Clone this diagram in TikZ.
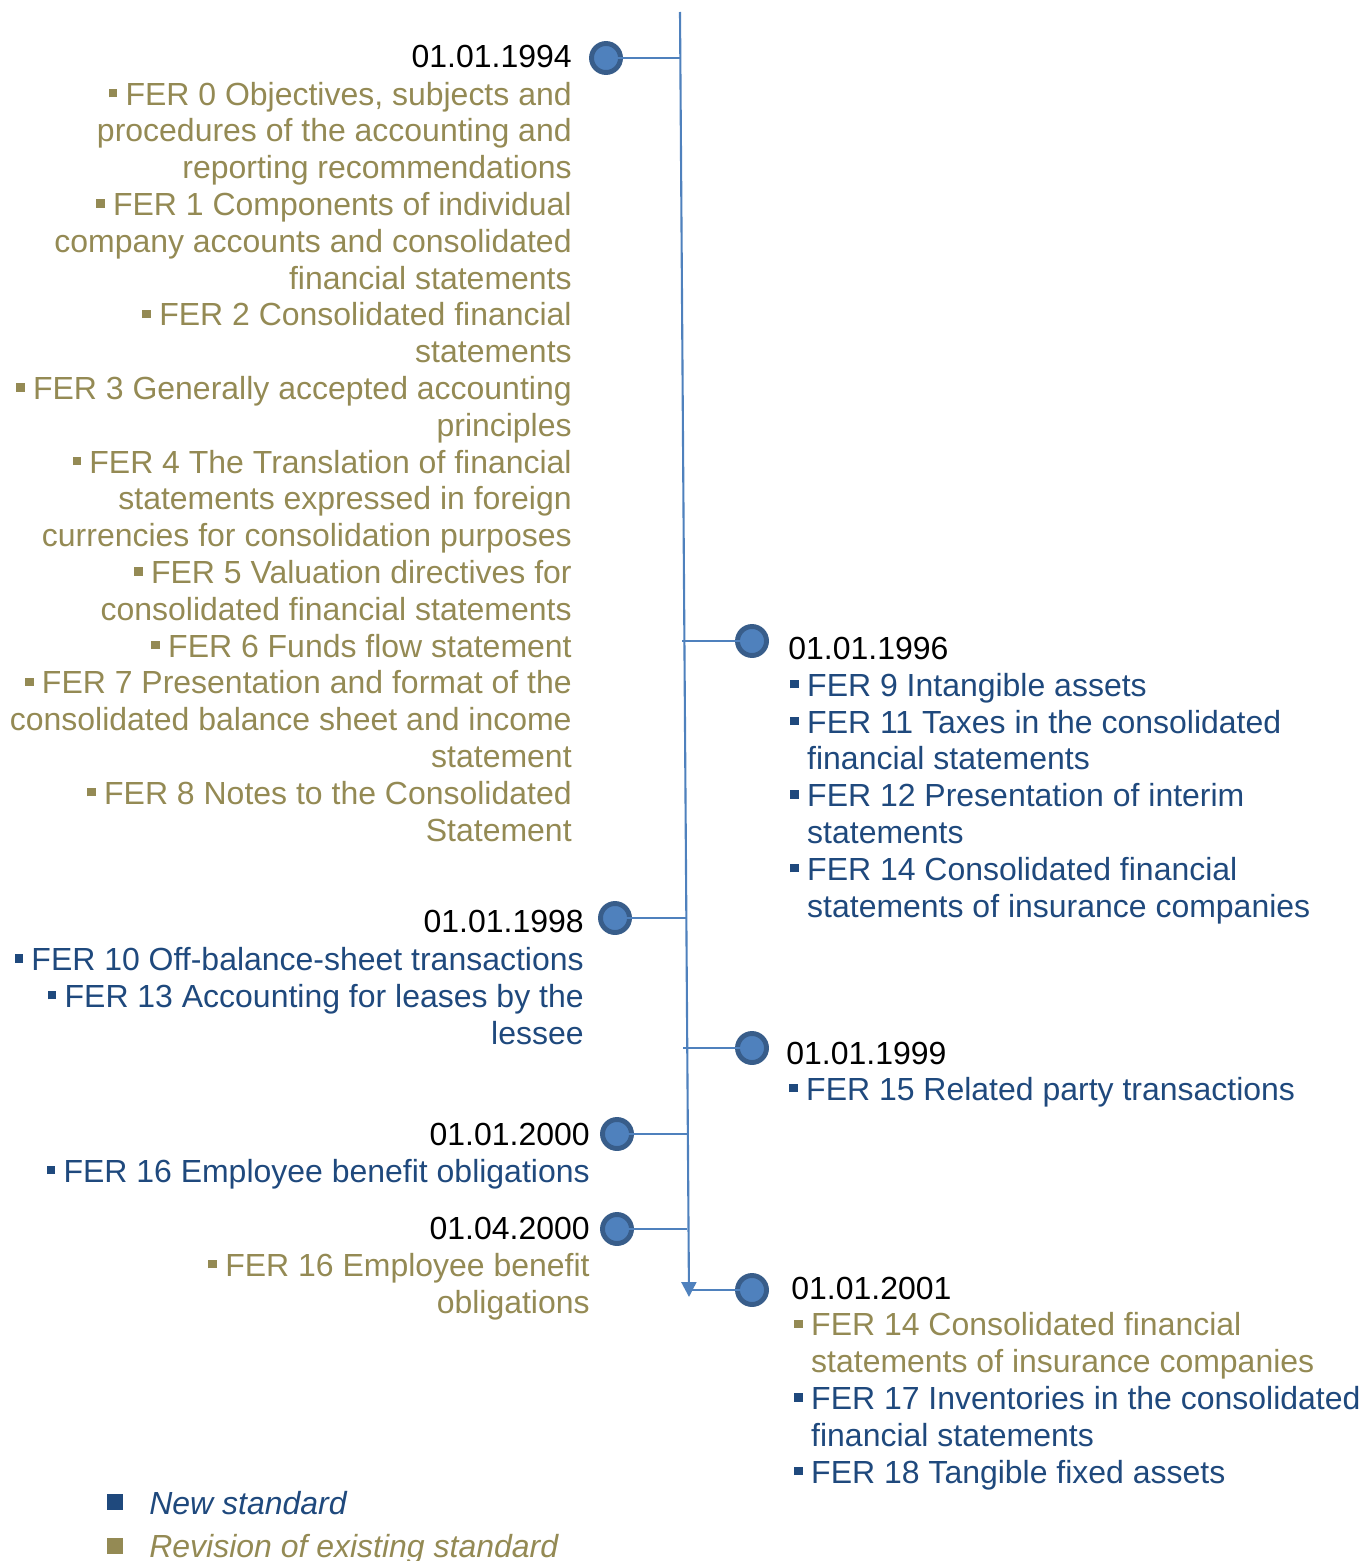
\documentclass[tikz,border=0pt]{standalone}
\usepackage{fontspec}
\setmainfont{Liberation Sans}
\usetikzlibrary{arrows.meta, positioning, calc}
\definecolor{cGold}{RGB}{148,138,84}
\definecolor{cNavy}{RGB}{31,73,125}
\definecolor{cLine}{RGB}{79,129,189}
\definecolor{cRim}{RGB}{56,93,138}
\newcommand{\itm}{\rule[4.5pt]{4.8pt}{4.8pt}\hspace{4.8pt}}
\newcommand{\hng}{\hspace*{9.6pt}}
\tikzset{
	dot/.style    ={circle, draw=cRim, line width=2.8pt, fill=cLine, minimum size=0.58cm, inner sep=0pt},
	datel/.style  ={anchor=base east, text=black},
	dater/.style  ={anchor=base west, text=black},
	listl/.style  ={anchor=base east, align=right},
	listr/.style  ={anchor=base west, align=left},
	axis/.style   ={cLine, line width=1.2pt, -{Triangle[length=8.5pt, width=8.5pt]}},
	conn/.style   ={cLine, line width=1.2pt},
	legsq/.style  ={rectangle, minimum size=0.32cm, inner sep=0pt},
	legtxt/.style ={anchor=base west, font=\fontsize{18.2pt}{20.94pt}\selectfont\itshape},
}
\begin{document}
\begin{tikzpicture}[x=0.02cm, y=-0.02cm, every node/.style={font=\fontsize{18.2pt}{20.94pt}\selectfont, inner sep=0pt}]
	\useasboundingbox (0,0) rectangle (1362,1561);
	\coordinate (top) at (680,12); \coordinate (bot) at (689,1297);
	\coordinate (j94) at (680,58); \coordinate (j96) at (682,641); \coordinate (j98) at (686,918); \coordinate (j99) at (683,1048);
	\coordinate (j00) at (687,1134); \coordinate (j04) at (687,1229); \coordinate (j01) at (689,1290);
	\draw[axis] (top) -- (bot);
	\node[dot] (c94) at (606,58) {};
	\node[dot] (c96) at (752,641) {};
	\node[dot] (c98) at (615,918) {};
	\node[dot] (c99) at (752,1048) {};
	\node[dot] (c00) at (617,1134) {};
	\node[dot] (c04) at (617,1229) {};
	\node[dot] (c01) at (752,1290) {};
	\draw[conn] (c94.center) -- (j94); \draw[conn] (j96) -- (c96.center); \draw[conn] (c98.center) -- (j98); \draw[conn] (j99) -- (c99.center);
	\draw[conn] (c00.center) -- (j00); \draw[conn] (c04.center) -- (j04); \draw[conn] (j01) -- (c01.center);
	\node[datel] (t94) at (572,68) {01.01.1994};
	\node[listl, text=cGold] (l94) at (572,841) {\itm FER 0 Objectives, subjects and\\ procedures of the accounting and\\ reporting recommendations\\
		\itm FER 1 Components of individual\\ company accounts and consolidated\\ financial statements\\
		\itm FER 2 Consolidated financial\\ statements\\
		\itm FER 3 Generally accepted accounting\\ principles\\
		\itm FER 4 The Translation of financial\\ statements expressed in foreign\\ currencies for consolidation purposes\\
		\itm FER 5 Valuation directives for\\ consolidated financial statements\\
		\itm FER 6 Funds flow statement\\
		\itm FER 7 Presentation and format of the\\ consolidated balance sheet and income\\ statement\\
		\itm FER 8 Notes to the Consolidated\\ Statement};
	\node[dater] (t96) at (788,659) {01.01.1996};
	\node[listr, text=cNavy] (l96) at (790,917) {\itm FER 9 Intangible assets\\
		\itm FER 11 Taxes in the consolidated\\ \hng financial statements\\
		\itm FER 12 Presentation of interim\\ \hng statements\\
		\itm FER 14 Consolidated financial\\ \hng statements of insurance companies};
	\node[datel] (t98) at (584,932) {01.01.1998};
	\node[listl, text=cNavy] (l98) at (584,1044) {\itm FER 10 Off-balance-sheet transactions\\
		\itm FER 13 Accounting for leases by the\\ lessee};
	\node[dater] (t99) at (786,1064) {01.01.1999};
	\node[listr, text=cNavy] (l99) at (789,1100) {\itm FER 15 Related party transactions};
	\node[datel] (t00) at (590,1145) {01.01.2000};
	\node[listl, text=cNavy] (l00) at (590,1182) {\itm FER 16 Employee benefit obligations};
	\node[datel] (t04) at (590,1239) {01.04.2000};
	\node[listl, text=cGold] (l04) at (590,1313) {\itm FER 16 Employee benefit\\ obligations};
	\node[dater] (t01) at (791,1299) {01.01.2001};
	\node[listr] (l01) at (794,1483) {\textcolor{cGold}{\itm FER 14 Consolidated financial}\\ \textcolor{cGold}{\hng statements of insurance companies}\\
		\textcolor{cNavy}{\itm FER 17 Inventories in the consolidated}\\ \textcolor{cNavy}{\hng financial statements}\\
		\textcolor{cNavy}{\itm FER 18 Tangible fixed assets}};
	\node[legsq, fill=cNavy] (k1) at (115,1502) {};
	\node[legsq, fill=cGold] (k2) at (115,1546) {};
	\node[legtxt, text=cNavy] (n1) at (149,1514) {New standard};
	\node[legtxt, text=cGold] (n2) at (149,1557) {Revision of existing standard};
\end{tikzpicture}
\end{document}
